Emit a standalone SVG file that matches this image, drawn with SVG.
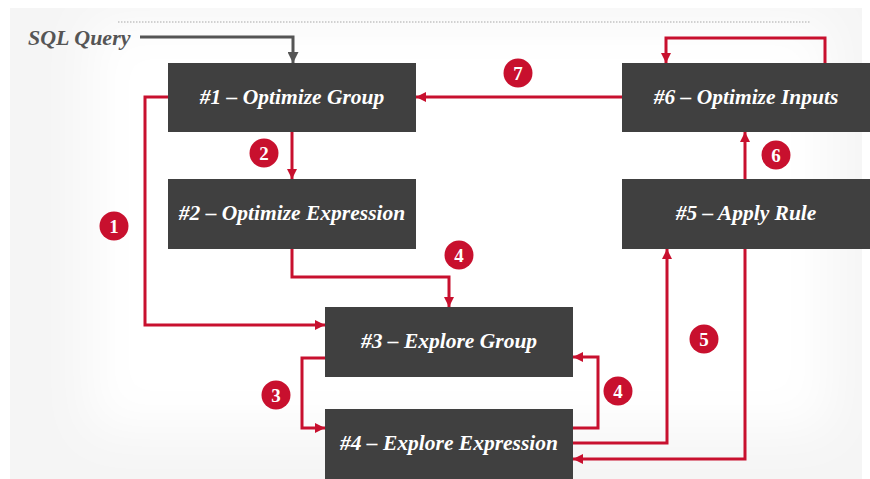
<svg xmlns="http://www.w3.org/2000/svg" width="870" height="479" viewBox="0 0 870 479">
<defs>
<style>
.node rect{fill:#404040}
.node text{fill:#ffffff;font-family:"Liberation Serif",serif;font-style:italic;font-weight:bold;font-size:21.5px;text-anchor:middle}
.c{fill:none;stroke:#c8102e;stroke-width:3;stroke-linejoin:miter}
.g{fill:none;stroke:#555555;stroke-width:3}
.badge circle{fill:#c8102e}
.badge text{fill:#ffffff;font-family:"Liberation Serif",serif;font-weight:bold;font-size:19px;text-anchor:middle}
</style>
<marker id="ar" viewBox="0 0 10 10" refX="10" refY="5" markerWidth="10" markerHeight="10" markerUnits="userSpaceOnUse" orient="auto">
<path d="M0,0 L10,5 L0,10 z" fill="#c8102e"/>
</marker>
<marker id="ag" viewBox="0 0 10 10" refX="10" refY="5" markerWidth="11" markerHeight="11" markerUnits="userSpaceOnUse" orient="auto">
<path d="M0,0 L10,5 L0,10 z" fill="#555555"/>
</marker>
<filter id="blur" x="-20%" y="-20%" width="140%" height="140%"><feGaussianBlur stdDeviation="25"/></filter>
</defs>
<rect x="0" y="0" width="870" height="479" fill="#ffffff"/>
<rect x="10" y="8" width="852" height="471" fill="#f5f5f5"/>
<rect x="90" y="20" width="740" height="410" fill="#ffffff" filter="url(#blur)"/>
<line x1="118" y1="22" x2="810" y2="22" stroke="#c4c4c4" stroke-width="1.5" stroke-dasharray="1.5,1.5"/>
<text x="28" y="45" font-family="Liberation Serif,serif" font-style="italic" font-weight="bold" font-size="22" fill="#555555">SQL Query</text>
<g id="connectors">
<path class="g" d="M140,37 H293 V63" marker-end="url(#ag)"/>
<path class="c" d="M292,132 V179" marker-end="url(#ar)"/>
<path class="c" d="M168,97 H145 V325 H325" marker-end="url(#ar)"/>
<path class="c" d="M292,249 V277 H449 V307" marker-end="url(#ar)"/>
<path class="c" d="M622,97 H416" marker-end="url(#ar)"/>
<path class="c" d="M825,63 V38 H666 V63" marker-end="url(#ar)"/>
<path class="c" d="M745,179 V132" marker-end="url(#ar)"/>
<path class="c" d="M573,443 H667 V249" marker-end="url(#ar)"/>
<path class="c" d="M745,249 V459 H573" marker-end="url(#ar)"/>
<path class="c" d="M573,428 H598 V357 H573" marker-end="url(#ar)"/>
<path class="c" d="M325,358 H302 V428 H325" marker-end="url(#ar)"/>
</g>
<g id="n1" class="node"><rect x="168" y="63" width="248" height="69"/><text x="292" y="104">#1 – Optimize Group</text></g>
<g id="n2" class="node"><rect x="168" y="179" width="248" height="70"/><text x="292" y="220">#2 – Optimize Expression</text></g>
<g id="n3" class="node"><rect x="325" y="307" width="248" height="70"/><text x="449" y="348">#3 – Explore Group</text></g>
<g id="n4" class="node"><rect x="325" y="409" width="248" height="70"/><text x="449" y="450">#4 – Explore Expression</text></g>
<g id="n5" class="node"><rect x="622" y="179" width="248" height="70"/><text x="746" y="220">#5 – Apply Rule</text></g>
<g id="n6" class="node"><rect x="622" y="63" width="248" height="69"/><text x="746" y="104">#6 – Optimize Inputs</text></g>
<g id="badges">
<g class="badge"><circle cx="114" cy="226" r="14.5"/><text x="114" y="232.5">1</text></g>
<g class="badge"><circle cx="264" cy="153" r="14.5"/><text x="264" y="159.5">2</text></g>
<g class="badge"><circle cx="276" cy="395" r="14.5"/><text x="276" y="401.5">3</text></g>
<g class="badge"><circle cx="459" cy="255" r="14.5"/><text x="459" y="261.5">4</text></g>
<g class="badge"><circle cx="618" cy="391" r="14.5"/><text x="618" y="397.5">4</text></g>
<g class="badge"><circle cx="704" cy="339" r="14.5"/><text x="704" y="345.5">5</text></g>
<g class="badge"><circle cx="776" cy="155" r="14.5"/><text x="776" y="161.5">6</text></g>
<g class="badge"><circle cx="518" cy="73" r="14.5"/><text x="518" y="79.5">7</text></g>
</g>
</svg>
